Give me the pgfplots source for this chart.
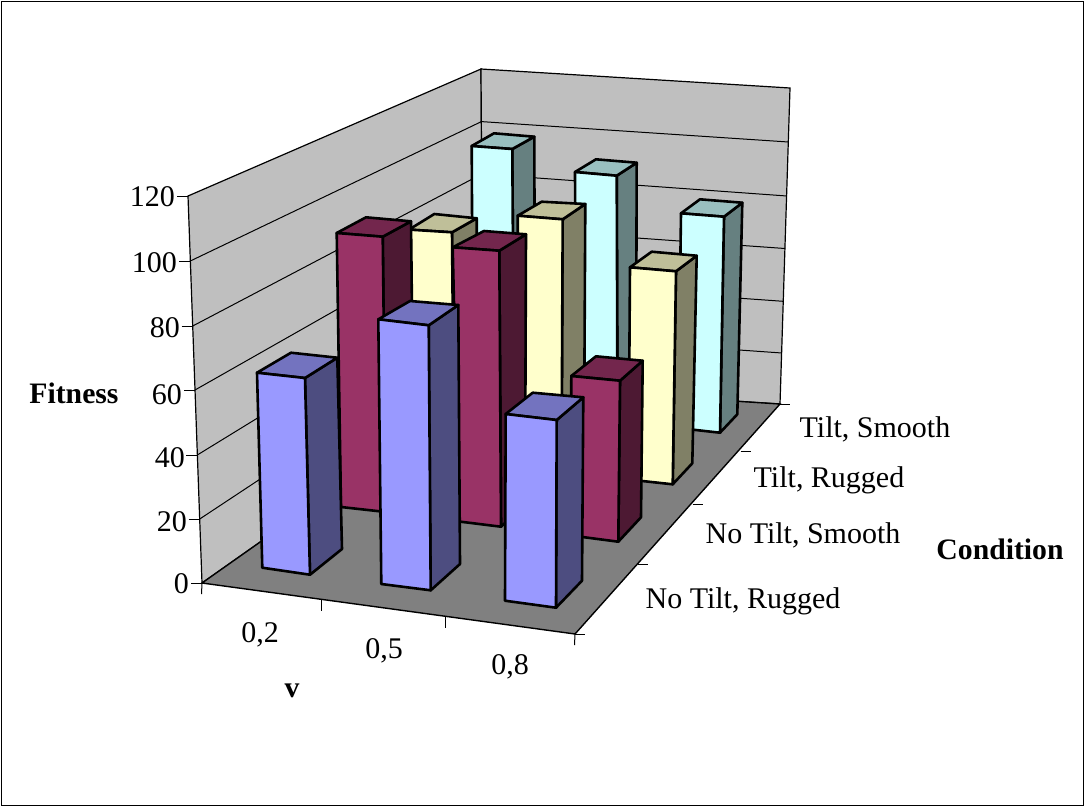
\documentclass[border=0pt]{standalone}
\usepackage{fontspec}
\setmainfont{Liberation Serif}
\usepackage{pgfplots}
\pgfplotsset{compat=1.18}
\definecolor{bF}{HTML}{9999FF}\definecolor{bS}{HTML}{4D4D80}\definecolor{bT}{HTML}{7373BF}
\definecolor{rF}{HTML}{993366}\definecolor{rS}{HTML}{4D1933}\definecolor{rT}{HTML}{73264D}
\definecolor{yF}{HTML}{FFFFCC}\definecolor{yS}{HTML}{808066}\definecolor{yT}{HTML}{BFBF99}
\definecolor{cF}{HTML}{CCFFFF}\definecolor{cS}{HTML}{668080}\definecolor{cT}{HTML}{99BFBF}
% #1 front-left top, #2 front-right top, #3 back-right top, #4 back-left top,
% #5 front-left base, #6 front-right base, #7 back-right base, #8 colour prefix
\newcommand\pbar[8]{%
  \addplot[draw=black,line width=2.6pt,line join=round,fill=#8S] coordinates {#2 #3 #7 #6} --cycle;
  \addplot[draw=black,line width=2.6pt,line join=round,fill=#8T] coordinates {#1 #2 #3 #4} --cycle;
  \addplot[draw=black,line width=2.6pt,line join=round,fill=#8F] coordinates {#1 #2 #6 #5} --cycle;
}
\newcommand\seg[2]{\addplot[black,line width=1pt] coordinates {#1 #2};}
\begin{document}
\begin{tikzpicture}
\begin{axis}[width=1084pt,height=807pt,scale only axis,axis lines=none,
  xmin=0,xmax=1084,ymin=0,ymax=807,y dir=reverse,clip=false,
  every axis plot/.append style={mark=none}]
\path[use as bounding box] (axis cs:0,0) rectangle (axis cs:1084,807);
\addplot[draw=black,line width=1pt,fill=white] coordinates {(1,1) (1083,1) (1083,805) (1,805)} --cycle;
% walls
\addplot[draw=black,line width=1.2pt,fill=black!25] coordinates {(188,196) (481,69) (483,385) (202,583)} --cycle;
\addplot[draw=black,line width=1.2pt,fill=black!25] coordinates {(481,69) (790,88) (780,404) (483,385)} --cycle;
% floor
\addplot[draw=black,line width=1.4pt,fill=black!50] coordinates {(202,583) (483,385) (780,404) (575,634)} --cycle;
% gridlines, left wall
\seg{(190.3,261)}{(481.4,121.6)}
\seg{(192.7,326)}{(481.8,174)}
\seg{(195,390)}{(482.1,227)}
\seg{(197.3,455)}{(482.4,280)}
\seg{(199.7,519)}{(482.7,332)}
% gridlines, back wall
\seg{(481.4,121.6)}{(788.5,142)}
\seg{(481.8,174)}{(787,196)}
\seg{(482.1,227)}{(785,248.5)}
\seg{(482.4,280)}{(783.3,301.3)}
\seg{(482.7,332)}{(782,353)}
% ticks, value axis
\seg{(177,196)}{(188,196)}
\seg{(179,261)}{(190.3,261)}
\seg{(181.5,326)}{(192.7,326)}
\seg{(184,390)}{(195,390)}
\seg{(186,455)}{(197.3,455)}
\seg{(188.5,519)}{(199.7,519)}
\seg{(191,583)}{(202,583)}
% ticks, v axis
\seg{(202,583)}{(201.5,594)}
\seg{(321,600)}{(321,611)}
\seg{(445.7,617)}{(445.7,628)}
\seg{(575,634)}{(574.5,645)}
% ticks, condition axis
\seg{(575,634)}{(585,634)}
\seg{(638,564.3)}{(648,564.3)}
\seg{(692.7,504.3)}{(702.7,504.3)}
\seg{(740.7,451.3)}{(750.5,451.3)}
\seg{(780,404)}{(790,404)}
% Tilt, Smooth
\pbar{(471.7,146)}{(512.3,149)}{(534.3,136.7)}{(494,133.3)}{(473,403)}{(514,408)}{(535,390)}{c}
\pbar{(575,172)}{(616.7,175.7)}{(636.7,162.7)}{(596,159.3)}{(576,416)}{(617.5,420)}{(636,402)}{c}
\pbar{(681,213.3)}{(724,216.7)}{(742.3,202.7)}{(700,199.3)}{(678,428)}{(720,432.7)}{(737.3,414.3)}{c}
% Tilt, Rugged
\pbar{(409,229.6)}{(452,232.3)}{(476.7,218.3)}{(434.3,214)}{(411,452)}{(454,457)}{(478,437)}{y}
\pbar{(517.7,215.7)}{(562.7,219.3)}{(585.3,204)}{(541.7,201.7)}{(518.5,465)}{(561.5,470.5)}{(584,451)}{y}
\pbar{(630,267.3)}{(676,271.3)}{(696.7,255.7)}{(651.7,251.7)}{(628.5,479.5)}{(672.7,484.3)}{(692.3,463.3)}{y}
% No Tilt, Smooth
\pbar{(336.7,233)}{(382.7,236.7)}{(411,221.3)}{(366,217.3)}{(341,507)}{(386,512)}{(414,492)}{r}
\pbar{(452.7,247.3)}{(499.3,250.7)}{(526,234.3)}{(484,231)}{(459,521.5)}{(501,526.7)}{(525,505)}{r}
\pbar{(571.3,376)}{(620,380.7)}{(642.7,360.7)}{(596,356.3)}{(571,535.5)}{(618.3,541.7)}{(641,517.3)}{r}
% No Tilt, Rugged
\pbar{(257,372.7)}{(305,378)}{(337.3,357.7)}{(291,352.7)}{(262.3,567.7)}{(310,574.7)}{(342,549)}{b}
\pbar{(378.3,319.3)}{(428.7,325.3)}{(458.3,305)}{(410,301)}{(381.3,584)}{(430.7,590.3)}{(460,564)}{b}
\pbar{(505.7,414)}{(556.7,420)}{(583.3,397.3)}{(532.7,392.7)}{(505,600.7)}{(556,607.7)}{(582,580.7)}{b}
% labels
\tikzset{lab/.style={font=\fontsize{30}{33}\selectfont,inner sep=0pt,text=black}}
\node[lab,anchor=east] at (axis cs:175,197) {120};
\node[lab,anchor=east] at (axis cs:177,263) {100};
\node[lab,anchor=east] at (axis cs:180,328) {80};
\node[lab,anchor=east] at (axis cs:182,395) {60};
\node[lab,anchor=east] at (axis cs:185,458) {40};
\node[lab,anchor=east] at (axis cs:187,522) {20};
\node[lab,anchor=east] at (axis cs:189,584) {0};
\node[lab] at (axis cs:260,635) {0,2};
\node[lab] at (axis cs:384,651) {0,5};
\node[lab] at (axis cs:510,667) {0,8};
\node[lab] at (axis cs:875,429) {Tilt, Smooth};
\node[lab] at (axis cs:829,480) {Tilt, Rugged};
\node[lab] at (axis cs:803,535) {No Tilt, Smooth};
\node[lab] at (axis cs:743,601) {No Tilt, Rugged};
\tikzset{blab/.style={font=\fontsize{29.7}{33}\selectfont\bfseries,inner sep=0pt,text=black}}
\node[blab] at (axis cs:74,393) {Fitness};
\node[blab] at (axis cs:1000,549) {Condition};
\node[blab] at (axis cs:292,691) {v};
\end{axis}
\end{tikzpicture}
\end{document}
